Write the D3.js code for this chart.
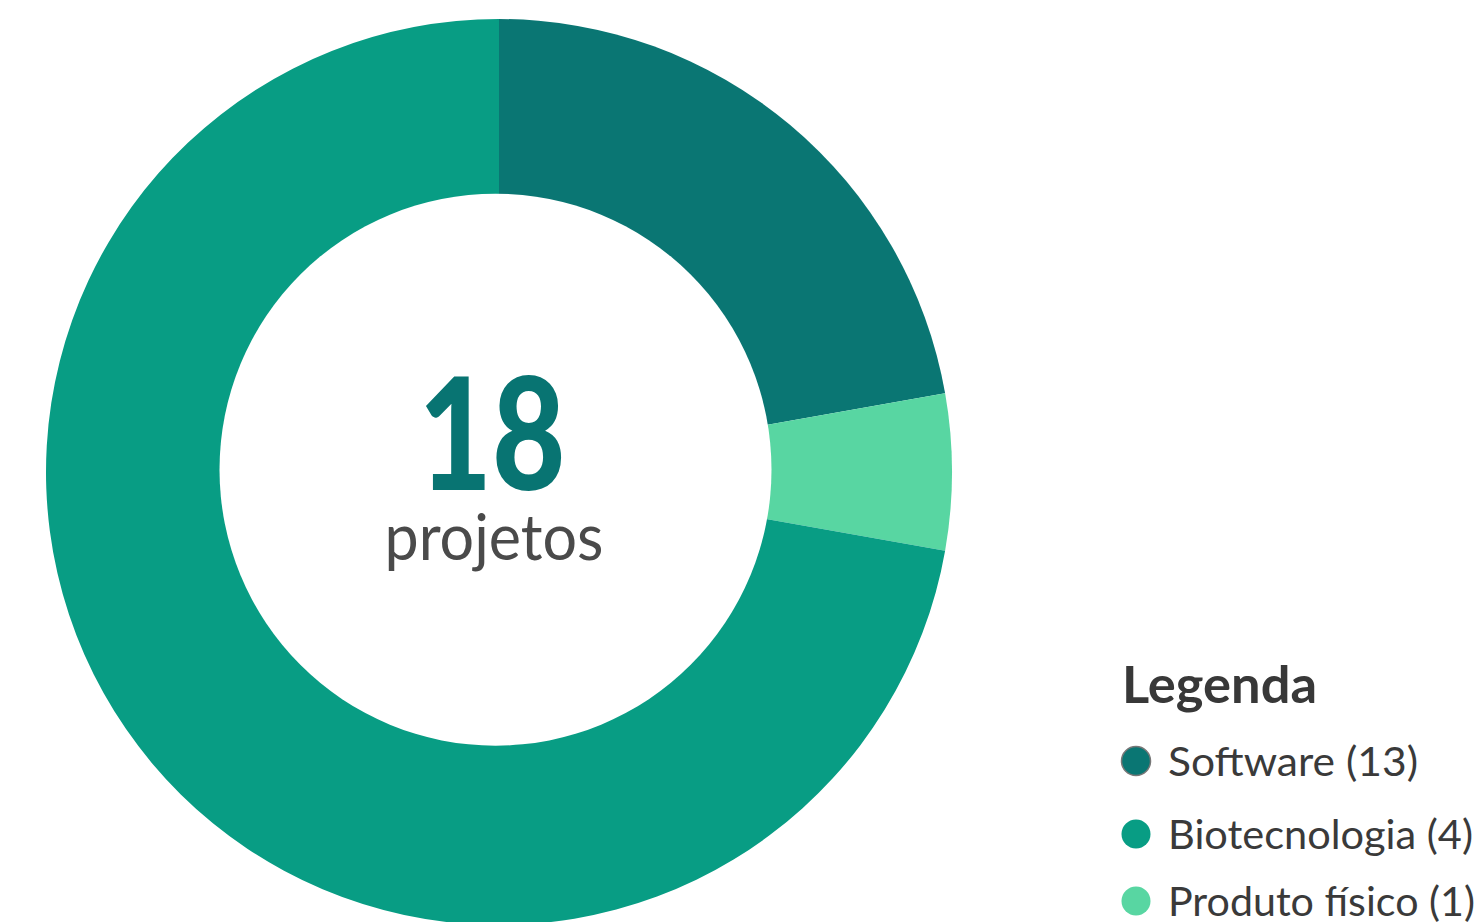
<!DOCTYPE html>
<html>
<head>
<meta charset="utf-8">
<script src="https://cdn.jsdelivr.net/npm/d3@7"></script>
<style>
  html, body { margin: 0; padding: 0; background: #ffffff; overflow: hidden; }
  svg { display: block; }
</style>
</head>
<body>
<div id="viz"></div>
<script>
// legend entries
const categories = ["Software", "Biotecnologia", "Produto físico"];
const counts = [13, 4, 1];
const legendColors = ["#0a7673", "#089d84", "#58d6a2"];

// ring as drawn in the reference (slice order clockwise from 12 o'clock)
const ringValues = [4, 1, 13];
const ringColors = ["#0a7673", "#58d6a2", "#089d84"];

const totalLabel = "18";
const totalCaption = "projetos";
const legendTitle = "Legenda";

const width = 1481;
const height = 922;

const svg = d3.select("#viz").append("svg")
  .attr("width", width)
  .attr("height", height);

// ring
const pie = d3.pie().sort(null).value((d) => d);
const arc = d3.arc().innerRadius(0).outerRadius(453);

const ring = svg.append("g").attr("transform", "translate(499,472)");
ring.selectAll("path")
  .data(pie(ringValues))
  .enter()
  .append("path")
  .attr("d", arc)
  .attr("fill", (d, i) => ringColors[i]);

// hole (slightly off the ring centre, as in the original)
svg.append("circle")
  .attr("cx", 495.5)
  .attr("cy", 469.7)
  .attr("r", 276)
  .attr("fill", "#ffffff");

// centre label
function fit(sel, w) {
  sel.attr("textLength", w).attr("lengthAdjust", "spacingAndGlyphs");
}

svg.append("text")
  .attr("x", 492)
  .attr("y", 490)
  .attr("text-anchor", "middle")
  .style("font-family", "Lato, sans-serif")
  .style("font-weight", 900)
  .style("font-size", "156px")
  .style("fill", "#087472")
  .text(totalLabel)
  .call(fit, 147);

svg.append("text")
  .attr("x", 494)
  .attr("y", 560)
  .attr("text-anchor", "middle")
  .style("font-family", "Lato, sans-serif")
  .style("font-size", "63px")
  .style("fill", "#4a4a4a")
  .text(totalCaption)
  .call(fit, 219);

// legend
const legend = svg.append("g");

legend.append("text")
  .attr("x", 1122)
  .attr("y", 703)
  .style("font-family", "Lato, sans-serif")
  .style("font-weight", 700)
  .style("font-size", "51px")
  .style("fill", "#383838")
  .text(legendTitle)
  .call(fit, 195);

const itemWidths = [250, 305, 307];
const rowY = d3.scaleOrdinal().domain(categories).range([761, 834, 901]);

const items = legend.selectAll("g.item")
  .data(categories)
  .enter()
  .append("g")
  .attr("class", "item")
  .attr("transform", (d) => `translate(0,${rowY(d)})`);

items.append("circle")
  .attr("cx", 1136)
  .attr("cy", 0)
  .attr("r", 14.5)
  .attr("fill", (d, i) => legendColors[i])
  .attr("stroke", (d, i) => (i === 0 ? "#777777" : "none"))
  .attr("stroke-width", 1.5);

items.append("text")
  .attr("x", 1168)
  .attr("y", 15)
  .style("font-family", "Lato, sans-serif")
  .style("font-size", "41px")
  .style("fill", "#3a3a3a")
  .text((d, i) => `${d} (${counts[i]})`)
  .each(function (d, i) { d3.select(this).call(fit, itemWidths[i]); });
</script>
</body>
</html>
